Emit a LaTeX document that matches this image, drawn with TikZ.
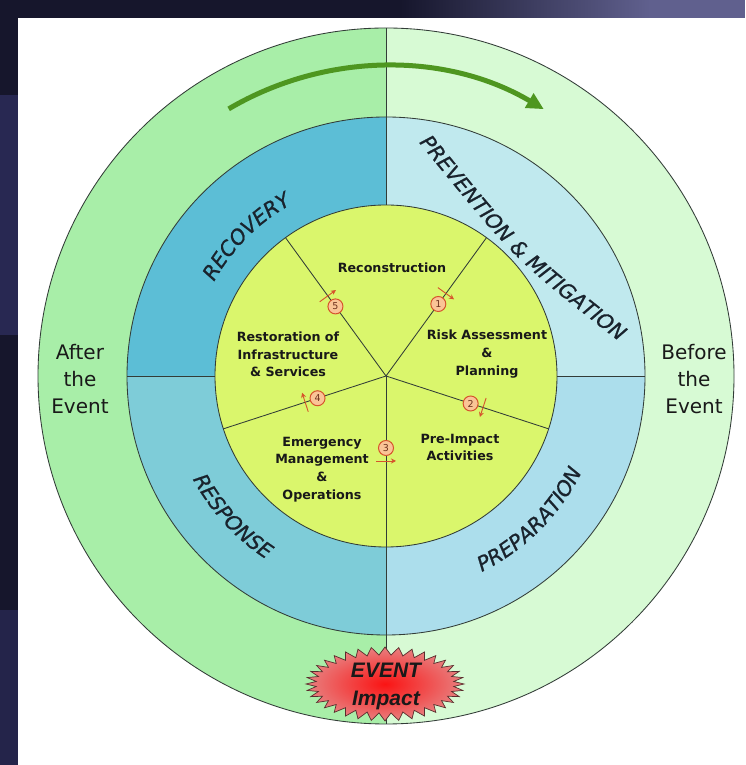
\documentclass[tikz,border=0pt]{standalone}
\usepackage{fontspec}
\setmainfont{DejaVu Sans}
\newfontfamily\arialfam{Liberation Sans}
\newfontfamily\ringfam[FakeBold=0.9]{DejaVu Sans}
\usetikzlibrary{calc,decorations.text,arrows.meta}
\definecolor{frameA}{RGB}{22,22,44}
\definecolor{frameB}{RGB}{96,96,142}
\definecolor{frameC}{RGB}{40,40,82}
\definecolor{outerL}{RGB}{168,238,168}
\definecolor{outerR}{RGB}{215,250,212}
\definecolor{recov}{RGB}{92,190,214}
\definecolor{resp}{RGB}{126,204,216}
\definecolor{prev}{RGB}{192,233,238}
\definecolor{prep}{RGB}{172,222,236}
\definecolor{yel}{RGB}{218,246,108}
\definecolor{arrg}{RGB}{78,150,32}
\definecolor{linec}{RGB}{50,60,55}
\definecolor{ringtext}{RGB}{25,35,45}
\definecolor{numfill}{RGB}{250,196,150}
\definecolor{numline}{RGB}{214,84,44}
\definecolor{numtext}{RGB}{110,50,30}
\definecolor{evred}{RGB}{250,20,20}
\definecolor{evpink}{RGB}{232,128,128}
\definecolor{evline}{RGB}{90,45,45}
\newcommand\ringfont{\ringfam\itshape\fontsize{20.5}{20.5}\selectfont\color{ringtext}}
\begin{document}
\begin{tikzpicture}[x=1pt,y=1pt,
  lbl/.style={font=\fontsize{12.7}{17.7}\selectfont\bfseries, align=center, text=black!90, inner sep=0pt},
  side/.style={font=\fontsize{20}{27}\selectfont, align=center, text=black!90, inner sep=0pt},
  numc/.style={circle, draw=numline, fill=numfill, line width=1pt, inner sep=0pt, minimum size=15pt, font=\fontsize{9.5}{9.5}\selectfont, text=numtext},
  smallarr/.style={draw=numline, line width=0.9pt, -{Stealth[length=5pt,width=5pt]}},
  divline/.style={draw=linec, line width=0.85pt},
  ringtxt/.style={decorate, decoration={text along path, text align=center, text={|\ringfont|#1}}},
]
\useasboundingbox (0,0) rectangle (745,765);
% frame
\fill[frameA] (0,0) rectangle (745,765);
\fill[frameC] (0,430) rectangle (18,670);
\fill[frameC!80!frameA] (0,0) rectangle (18,155);
\shade[left color=frameA, right color=frameB] (400,747) rectangle (650,765);
\fill[frameB] (650,747) rectangle (745,765);
\fill[white] (18,0) rectangle (745,747);

\coordinate (C) at (386,389);
% outer ring
\fill[outerL] ($(C)+(90:348)$) arc[start angle=90,end angle=270,radius=348] -- cycle;
\fill[outerR] ($(C)+(-90:348)$) arc[start angle=-90,end angle=90,radius=348] -- cycle;
% blue ring
\fill[recov] (C) -- ($(C)+(90:259)$) arc[start angle=90,end angle=180,radius=259] -- cycle;
\fill[resp] (C) -- ($(C)+(180:259)$) arc[start angle=180,end angle=270,radius=259] -- cycle;
\fill[prep] (C) -- ($(C)+(270:259)$) arc[start angle=270,end angle=360,radius=259] -- cycle;
\fill[prev] (C) -- ($(C)+(0:259)$) arc[start angle=0,end angle=90,radius=259] -- cycle;
% inner circle
\fill[yel] (C) circle[radius=171];

% lines
\draw[divline] (C) circle[radius=348];
\draw[divline] (C) circle[radius=259];
\draw[divline] (C) circle[radius=171];
\draw[divline] ($(C)+(90:348)$) -- ($(C)+(90:171)$);
\draw[divline] (C) -- ($(C)+(270:348)$);
\draw[divline] ($(C)+(180:259)$) -- ($(C)+(180:171)$);
\draw[divline] ($(C)+(0:171)$) -- ($(C)+(0:259)$);
\foreach \a in {54,126,198,342} \draw[divline] (C) -- ($(C)+(\a:171)$);

% green arrow
\draw[arrg, line width=5pt, -{Triangle[length=17pt,width=16pt]}] ($(C)+(120.5:310)$) arc[start angle=120.5, end angle=59.4, radius=310];

% ring labels
\path[ringtxt=RECOVERY] ($(C)+(175:196)$) arc[start angle=175, end angle=95, radius=196];
\path[ringtxt=RESPONSE] ($(C)+(183:219)$) arc[start angle=183, end angle=262, radius=219];
\path[ringtxt=PREPARATION] ($(C)+(275:218)$) arc[start angle=275, end angle=355, radius=218];
\path[ringtxt={PREVENTION {\&} MITIGATION}] (402,643) -- (421,620) .. controls (514,506) .. (616,426) -- (640,407);

% inner labels
\node[lbl] (recon) at (392,497) {Reconstruction};
\node[lbl] (risk) at (487,411) {Risk Assessment\\\&\\Planning};
\node[lbl] (pre) at (460,317.5) {Pre-Impact\\Activities};
\node[lbl] (emer) at (322,295.5) {Emergency\\Management\\\&\\Operations};
\node[lbl] (rest) at (288,410.7) {Restoration of\\Infrastructure\\\& Services};

% numbered markers
\foreach \n/\a/\r/\d in {1/54/89/-90, 2/342/89/-90, 3/270/72/90, 4/198/72/-90, 5/126/86/-90} {
  \coordinate (m\n) at ($(C)+(\a:{\r+13})$);
  \draw[smallarr] ($(m\n)+({\a+\d+180}:10)$) -- ($(m\n)+({\a+\d}:10)$);
  \node[numc] (n\n) at ($(C)+(\a:\r)$) {\n};
}

% side texts
\node[side] (after) at (80,386) {After\\the\\Event};
\node[side] (before) at (694,386) {Before\\the\\Event};

% event starburst
\coordinate (E) at (385,81);
\begin{scope}[shift={(E)}]
\shadedraw[inner color=evred, outer color=evpink, draw=evline, line width=0.7pt]
  plot[samples at={0,...,71}] ({ifthenelse(mod(\x,2)==0,79,69)*cos(\x*5)},{ifthenelse(mod(\x,2)==0,37,29)*sin(\x*5)}) -- cycle;
\end{scope}
\node[font=\arialfam\bfseries\itshape\fontsize{21}{28}\selectfont, align=center, text=black!90, inner sep=0pt] (event) at (386,79) {EVENT\\Impact};
\end{tikzpicture}
\end{document}
